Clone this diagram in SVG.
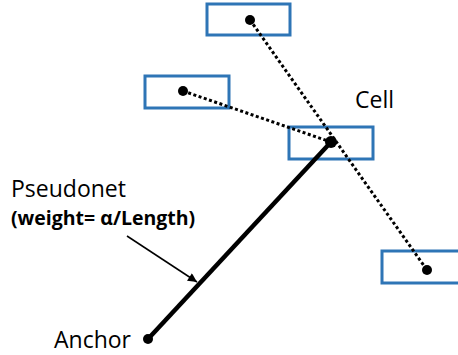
<svg xmlns="http://www.w3.org/2000/svg" width="458" height="355" viewBox="0 0 458 355">
<defs>
<style>
.box{fill:#fff;stroke:#2E75B6;stroke-width:3}
.dot{fill:#000}
.lbl{font-family:"Open Sans","Noto Sans",sans-serif;font-size:23px;fill:#000}
.sub{font-family:"Open Sans","Noto Sans",sans-serif;font-size:19.5px;font-weight:bold;fill:#000}
.dotted{stroke:#000;stroke-width:3;stroke-dasharray:3 2.5;fill:none}
</style>
<marker id="ah" viewBox="0 0 10 10" refX="10" refY="5" markerWidth="11" markerHeight="9" markerUnits="userSpaceOnUse" orient="auto">
<path d="M0,0 L10,5 L0,10 z" fill="#000"/>
</marker>
</defs>
<g id="cell-top"><rect class="box" x="207" y="4" width="83" height="31"/></g>
<g id="cell-left"><rect class="box" x="145" y="76" width="84" height="32"/></g>
<g id="cell"><rect class="box" x="289" y="127" width="84" height="32"/></g>
<g id="cell-right"><rect class="box" x="382" y="251" width="84" height="32"/></g>
<g id="connectors">
<line class="dotted" x1="250" y1="20" x2="427" y2="270"/>
<line class="dotted" x1="183" y1="91" x2="331" y2="142"/>
<line x1="148" y1="339" x2="331" y2="142" stroke="#000" stroke-width="4.5"/>
<line x1="127" y1="236" x2="197" y2="282" stroke="#000" stroke-width="1.5" marker-end="url(#ah)"/>
</g>
<g id="dots">
<circle class="dot" cx="250" cy="20" r="5"/>
<circle class="dot" cx="183" cy="91" r="5"/>
<circle class="dot" cx="331" cy="142" r="6"/>
<circle class="dot" cx="427" cy="270" r="5"/>
<circle class="dot" cx="148" cy="339" r="5"/>
</g>
<g id="labels">
<text class="lbl" x="355" y="108">Cell</text>
<text class="lbl" x="11" y="197">Pseudonet</text>
<text class="sub" x="11" y="225">(weight= α/Length)</text>
<text class="lbl" x="54" y="348">Anchor</text>
</g>
</svg>
